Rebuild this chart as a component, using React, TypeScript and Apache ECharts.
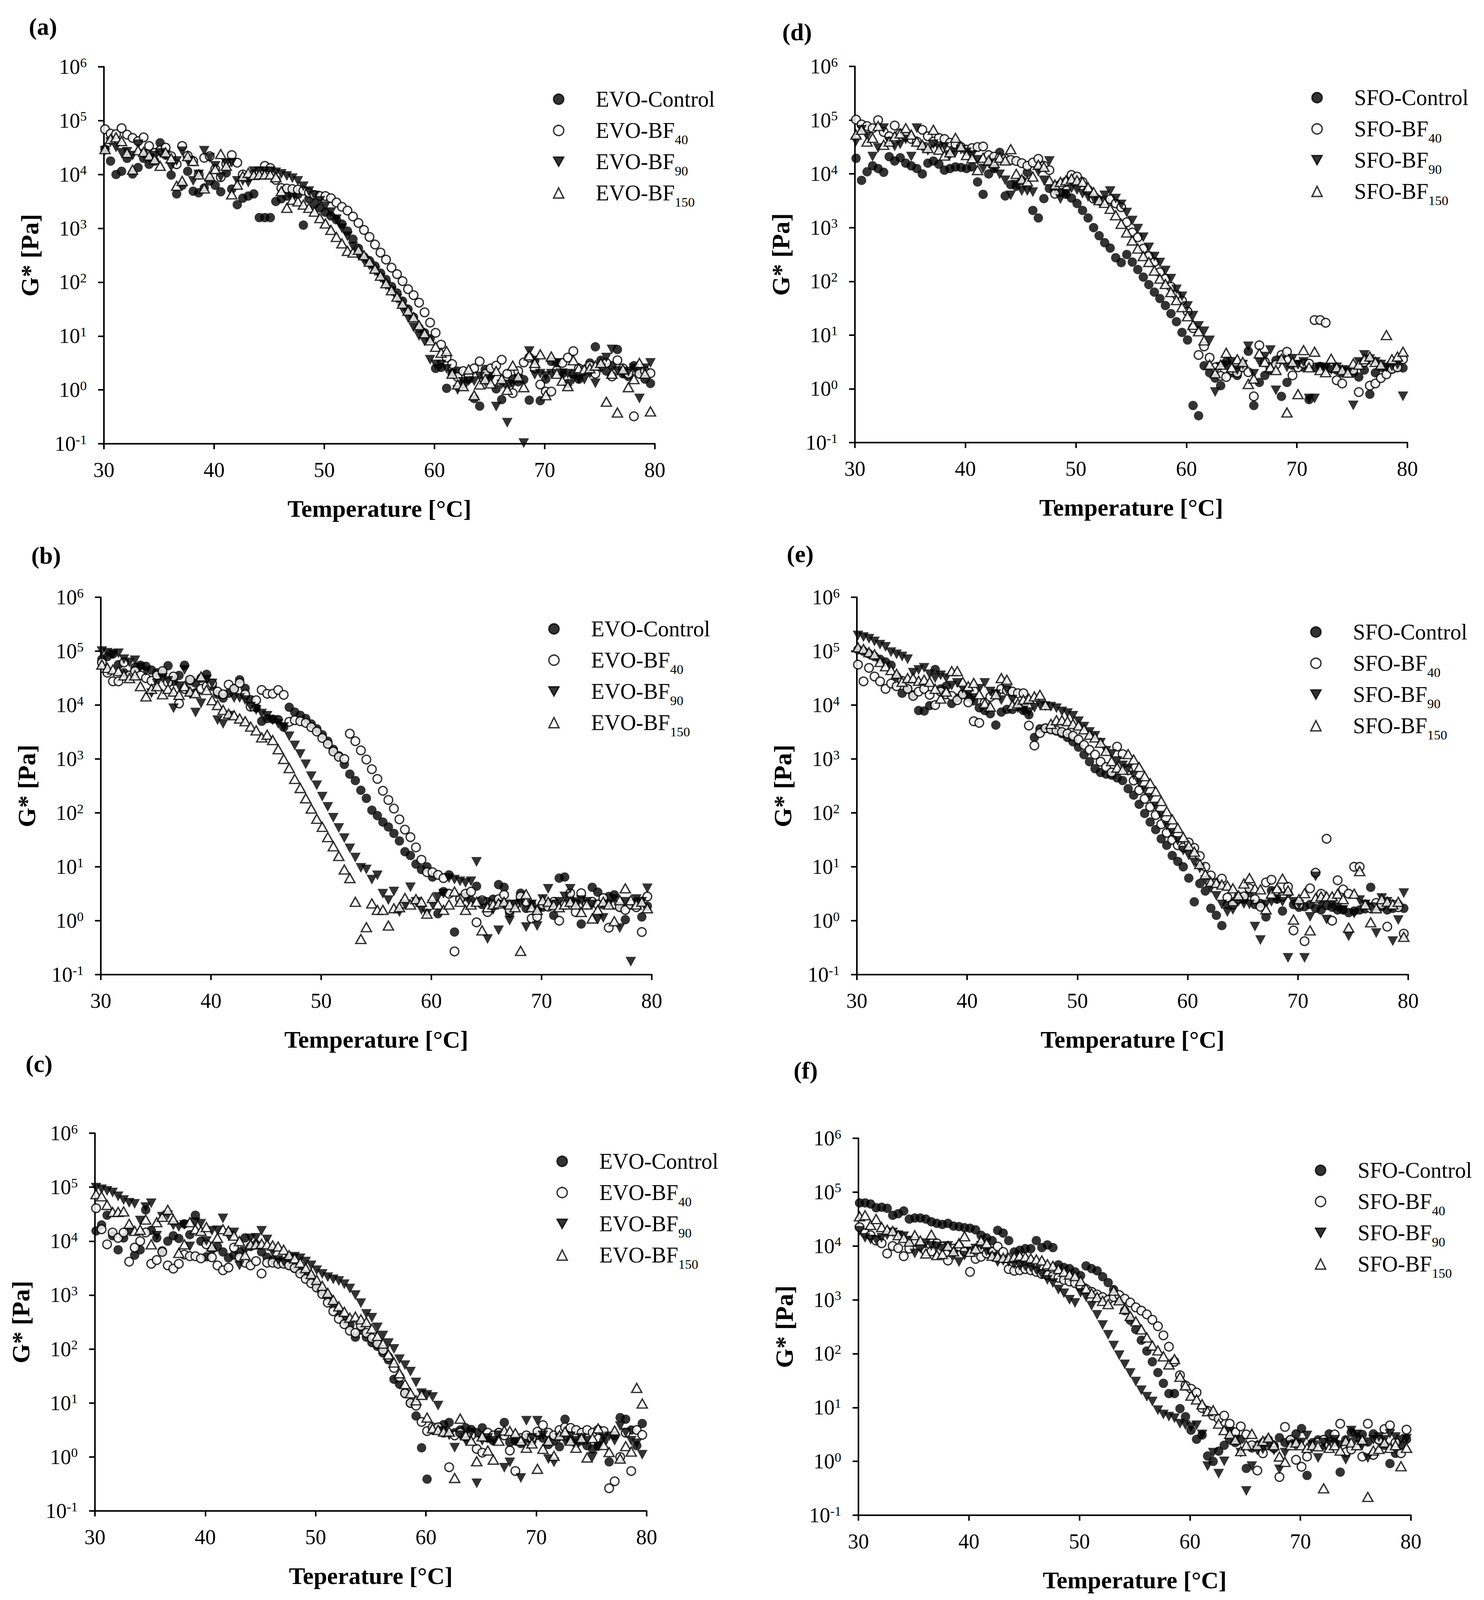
import React, { useEffect, useRef } from "react";
import * as echarts from "echarts";

// Sampling temperatures (°C) shared by every series
const TEMPERATURES = [
  30.1, 30.6, 31.1, 31.6, 32.1, 32.6, 33.1, 33.6, 34.1, 34.6,
  35.1, 35.6, 36.1, 36.6, 37.1, 37.6, 38.1, 38.6, 39.1, 39.6,
  40.1, 40.6, 41.1, 41.6, 42.1, 42.6, 43.1, 43.6, 44.1, 44.6,
  45.1, 45.6, 46.1, 46.6, 47.1, 47.6, 48.1, 48.6, 49.1, 49.6,
  50.1, 50.6, 51.1, 51.6, 52.1, 52.6, 53.1, 53.6, 54.1, 54.6,
  55.1, 55.6, 56.1, 56.6, 57.1, 57.6, 58.1, 58.6, 59.1, 59.6,
  60.1, 60.6, 61.1, 61.6, 62.1, 62.6, 63.1, 63.6, 64.1, 64.6,
  65.1, 65.6, 66.1, 66.6, 67.1, 67.6, 68.1, 68.6, 69.1, 69.6,
  70.1, 70.6, 71.1, 71.6, 72.1, 72.6, 73.1, 73.6, 74.1, 74.6,
  75.1, 75.6, 76.1, 76.6, 77.1, 77.6, 78.1, 78.6, 79.1, 79.6,
];

const X_TICKS = [30, 40, 50, 60, 70, 80];
const Y_DECADES = [-1, 0, 1, 2, 3, 4, 5, 6]; // log10 of tick values

const EVO_NAMES = ["EVO-Control", "EVO-BF40", "EVO-BF90", "EVO-BF150"];
const SFO_NAMES = ["SFO-Control", "SFO-BF40", "SFO-BF90", "SFO-BF150"];

// ---- G* values, stored as log10(G* / Pa) ----
// (a)
const A_CONTROL = [
  4.47, 4.25, 4.0, 4.06, 4.3, 4.01, 4.13, 4.3, 4.19, 4.25,
  4.59, 4.36, 3.99, 3.64, 3.8, 4.06, 3.69, 3.66, 3.75, 3.88,
  3.8, 3.68, 4.03, 3.73, 3.44, 3.56, 3.6, 3.64, 3.2, 3.2,
  3.2, 3.5, 3.55, 3.6, 3.62, 3.63, 3.06, 3.55, 3.45, 3.38,
  3.3, 3.23, 3.16, 3.08, 2.95, 2.8, 2.63, 2.47, 2.4, 2.3,
  2.17, 2.05, 1.92, 1.8, 1.65, 1.5, 1.35, 1.15, 1.06, 0.95,
  0.4, 0.42, 0.03, 0.3, 0.35, 0.1, 0.2, -0.16, -0.3, 0.38,
  0.3, 0.02, -0.18, 0.1, 0.2, 0.15, 0.19, -0.19, 0.55, -0.2,
  0.2, 0.53, 0.5, 0.3, 0.12, 0.3, 0.2, 0.35, 0.5, 0.8,
  0.55, 0.35, 0.45, 0.75, 0.3, 0.25, 0.45, 0.35, 0.2, 0.12,
];
const A_BF40 = [
  4.84, 4.76, 4.75, 4.86, 4.74, 4.68, 4.62, 4.69, 4.53, 4.4,
  4.45, 4.5, 4.34, 4.19, 4.53, 4.35, 4.25, 4.0, 4.31, 4.34,
  4.1, 3.95, 4.2, 4.36, 4.22, 4.0, 3.95, 4.0, 4.05, 4.16,
  4.12, 3.9, 3.75, 3.74, 3.73, 3.72, 3.7, 3.66, 3.62, 3.6,
  3.6, 3.56, 3.48, 3.4, 3.33, 3.22, 3.1, 2.97, 2.84, 2.7,
  2.55, 2.42, 2.27, 2.15, 2.02, 1.87, 1.76, 1.62, 1.44, 1.25,
  1.06, 0.84, 0.6, 0.48, 0.24, 0.35, 0.26, 0.4, 0.53, 0.3,
  0.4, 0.45, 0.56, 0.3, -0.06, 0.35, 0.51, 0.6, 0.4, 0.1,
  -0.03, -0.03, 0.36, 0.5, 0.6, 0.72, 0.4, 0.37, 0.45, 0.3,
  0.44, 0.5, 0.25, 0.55, 0.4, 0.3, -0.49, 0.3, 0.35, 0.31,
];
const A_BF90 = [
  4.44, 4.6, 4.5, 4.4, 4.42, 4.35, 4.56, 4.38, 4.3, 4.35,
  4.4, 4.36, 4.14, 4.25, 4.43, 4.25, 3.88, 4.0, 4.44, 4.31,
  4.16, 3.95, 4.2, 4.22, 3.88, 3.88, 3.85, 4.06, 4.06, 4.06,
  4.06, 4.04, 4.01, 3.97, 3.93, 3.88, 3.78, 3.69, 3.61, 3.51,
  3.41, 3.3, 3.17, 3.0, 2.85, 2.66, 2.5, 2.4, 2.31, 2.2,
  2.08, 1.94, 1.83, 1.69, 1.5, 1.34, 1.16, 1.0, 0.9, 0.56,
  0.47, 0.47, 0.39, 0.3, 0.0, 0.15, 0.16, 0.16, 0.25, 0.15,
  0.2, -0.31, 0.1, -0.61, 0.1, 0.2, -0.99, 0.72, 0.28, 0.3,
  0.26, 0.3, 0.5, 0.31, 0.3, 0.19, 0.2, 0.19, 0.3, 0.12,
  0.4, 0.6, 0.75, 0.35, 0.3, 0.34, 0.4, -0.16, 0.4, 0.5,
];
const A_BF150 = [
  4.47, 4.66, 4.69, 4.62, 4.4, 4.09, 4.45, 4.42, 4.35, 4.28,
  4.16, 4.41, 4.3, 3.79, 3.88, 4.34, 4.25, 4.0, 3.74, 3.97,
  4.1, 4.38, 4.16, 3.63, 3.81, 3.97, 4.03, 3.99, 4.0, 4.0,
  4.0, 3.95, 3.69, 3.38, 3.53, 3.5, 3.44, 3.38, 3.31, 3.19,
  3.09, 2.97, 2.84, 2.72, 2.58, 2.55, 2.6, 2.5, 2.38, 2.25,
  2.12, 1.98, 1.85, 1.73, 1.6, 1.47, 1.35, 1.2, 1.05, 0.92,
  0.8, 0.69, 0.72, 0.3, 0.1, 0.07, 0.38, -0.1, 0.1, 0.2,
  0.12, 0.35, 0.2, 0.0, 0.45, 0.25, 0.05, 0.64, 0.5, 0.66,
  -0.1, 0.62, 0.3, 0.17, 0.07, 0.55, 0.4, 0.38, 0.4, 0.45,
  0.5, -0.22, 0.3, -0.42, 0.38, 0.05, 0.2, 0.5, 0.3, -0.4,
];
// (b)
const B_CONTROL = [
  4.85, 4.9, 4.95, 4.75, 4.6, 4.53, 4.7, 4.74, 4.72, 4.65,
  4.6, 4.6, 4.73, 4.44, 4.55, 4.74, 4.45, 4.41, 4.5, 4.57,
  4.35, 4.2, 4.13, 4.22, 4.31, 4.47, 4.31, 4.1, 3.95, 3.7,
  3.75, 3.74, 3.73, 3.59, 3.96, 3.87, 3.81, 3.75, 3.65, 3.56,
  3.45, 3.33, 3.18, 3.06, 2.9, 2.72, 2.6, 2.42, 2.27, 2.05,
  1.95, 1.83, 1.74, 1.62, 1.48, 1.28, 1.21, 1.05, 0.95, 1.0,
  0.81, 0.13, 0.54, 0.85, -0.21, 0.42, 0.45, 0.38, 0.64, 0.3,
  0.35, 0.4, 0.67, 0.62, 0.14, 0.3, 0.51, 0.23, 0.3, 0.2,
  0.25, 0.3, 0.1, 0.79, 0.81, 0.4, 0.35, -0.06, 0.3, 0.62,
  0.53, 0.3, 0.45, 0.48, 0.26, 0.02, 0.3, 0.35, 0.07, 0.27,
];
const B_BF40 = [
  4.79, 4.6, 4.44, 4.44, 4.79, 4.55, 4.63, 4.55, 4.5, 4.45,
  4.55, 4.63, 4.42, 4.53, 4.03, 4.3, 4.47, 4.22, 4.3, 4.35,
  4.4, 4.25, 4.2, 4.38, 4.3, 4.41, 4.2, 3.97, 4.09, 4.28,
  4.21, 4.21, 4.28, 4.19, 3.69, 3.72, 3.7, 3.67, 3.59, 3.51,
  3.39, 3.28, 3.14, 3.04, 3.0, 3.47, 3.33, 3.16, 2.99, 2.81,
  2.63, 2.41, 2.24, 2.08, 1.88, 1.69, 1.55, 1.36, 1.13, 0.9,
  0.9, 0.85, 0.79, 0.5, -0.57, 0.4, 0.5, 0.54, -0.03, 0.38,
  0.16, 0.3, 0.4, 0.48, 0.2, 0.3, 0.45, 0.35, 0.04, 0.07,
  0.3, 0.26, 0.35, 0.0, 0.3, 0.51, 0.16, 0.51, 0.3, 0.35,
  0.3, 0.42, -0.13, 0.3, 0.25, 0.2, 0.3, 0.25, -0.21, 0.45,
];
const B_BF90 = [
  5.0, 4.97, 4.94, 4.96, 4.85, 4.79, 4.83, 4.7, 4.63, 4.22,
  4.4, 4.5, 4.45, 3.94, 4.35, 4.65, 4.2, 3.86, 4.03, 4.47,
  4.4, 3.72, 3.65, 3.8, 4.13, 4.13, 4.09, 3.97, 3.91, 3.84,
  3.8, 3.72, 3.65, 3.59, 3.42, 3.25, 3.09, 2.9, 2.68, 2.51,
  2.3, 2.11, 1.91, 1.72, 1.53, 1.34, 1.17, 0.98, 0.95, 0.76,
  0.84, 0.5, 0.38, 0.54, 0.16, 0.3, 0.62, 0.35, 0.2, 0.13,
  0.3, 0.44, 0.5, 0.79, 0.76, 0.73, 0.7, 0.73, 1.09, 0.35,
  -0.34, 0.2, -0.18, 0.3, 0.0, 0.3, 0.32, -0.12, 0.3, -0.1,
  0.4, 0.59, 0.3, 0.35, 0.45, 0.59, 0.3, 0.38, 0.35, 0.3,
  0.02, 0.05, 0.3, 0.4, -0.14, 0.35, -0.76, 0.4, 0.35, 0.6,
];
const B_BF150 = [
  4.75, 4.69, 4.66, 4.63, 4.55, 4.5, 4.55, 4.35, 4.16, 4.3,
  4.35, 4.2, 4.3, 4.25, 4.19, 4.35, 4.25, 4.22, 4.53, 4.28,
  4.09, 4.0, 3.91, 3.84, 3.81, 3.75, 3.7, 3.6, 3.53, 3.4,
  3.45, 3.35, 3.18, 3.0, 2.83, 2.63, 2.46, 2.27, 2.08, 1.89,
  1.74, 1.55, 1.38, 1.2, 0.95, 0.79, 0.35, -0.34, -0.12, 0.32,
  0.2, 0.2, -0.09, 0.23, 0.25, 0.42, 0.3, 0.4, 0.35, 0.13,
  0.42, 0.3, 0.2, 0.3, 0.54, 0.35, 0.2, 0.3, 0.35, -0.18,
  0.25, 0.3, 0.32, 0.35, 0.3, 0.25, -0.56, 0.49, 0.25, 0.2,
  0.38, 0.35, 0.29, 0.25, 0.3, 0.35, 0.3, 0.16, 0.3, 0.04,
  0.2, 0.35, 0.3, -0.01, 0.38, 0.6, 0.38, 0.3, 0.35, 0.23,
];
// (c)
const C_CONTROL = [
  4.19, 4.3, 4.48, 4.1, 3.84, 4.06, 4.2, 3.74, 3.84, 4.58,
  4.2, 4.06, 3.82, 4.0, 4.1, 4.05, 4.32, 4.12, 4.48, 4.0,
  3.71, 3.85, 3.9, 3.8, 3.69, 3.74, 3.8, 4.06, 3.9, 3.94,
  3.8, 3.7, 3.65, 3.6, 3.6, 3.55, 3.5, 3.45, 3.39, 3.3,
  3.18, 3.06, 2.97, 2.82, 2.67, 2.53, 2.44, 2.22, 2.35, 2.22,
  2.12, 2.05, 1.93, 1.8, 1.44, 1.35, 1.19, 1.0, 0.76, 0.17,
  -0.41, 0.5, 0.55, 0.6, 0.64, 0.45, 0.5, 0.54, 0.51, 0.45,
  0.54, 0.35, 0.3, 0.45, 0.64, 0.27, 0.3, 0.25, 0.35, 0.3,
  0.4, 0.35, 0.23, 0.3, 0.19, 0.7, 0.3, 0.25, 0.3, 0.21,
  0.15, 0.2, 0.3, -0.09, 0.4, 0.73, 0.7, 0.5, 0.21, 0.62,
];
const C_BF40 = [
  4.61, 4.22, 3.94, 4.16, 4.06, 4.16, 3.62, 3.88, 4.0, 4.16,
  3.58, 3.65, 3.8, 3.55, 3.49, 3.58, 3.75, 3.72, 3.72, 3.68,
  3.94, 3.7, 3.55, 3.46, 3.51, 3.88, 3.7, 3.6, 3.55, 3.63,
  3.4, 3.6, 3.6, 3.58, 3.58, 3.55, 3.5, 3.4, 3.3, 3.22,
  3.14, 3.02, 2.86, 2.7, 2.56, 2.46, 2.34, 2.3, 2.43, 2.3,
  2.2, 2.1, 1.98, 1.85, 1.65, 1.48, 1.18, 1.0, 0.95, 0.65,
  0.48, 0.55, 0.55, 0.45, -0.19, 0.4, 0.45, 0.38, 0.4, 0.15,
  0.08, 0.45, 0.4, 0.45, 0.4, 0.12, -0.26, 0.35, 0.4, 0.35,
  0.47, 0.59, 0.45, 0.4, 0.5, 0.55, 0.54, 0.5, 0.45, 0.5,
  0.45, 0.5, 0.48, -0.58, -0.45, 0.0, 0.45, -0.26, 0.5, 0.41,
];
const C_BF90 = [
  4.99, 4.96, 4.93, 4.9, 4.83, 4.76, 4.71, 4.69, 4.38, 4.63,
  4.7, 4.1, 4.45, 4.48, 4.29, 4.26, 4.3, 3.9, 4.35, 4.32,
  4.0, 4.19, 4.2, 4.42, 4.1, 4.16, 3.55, 3.81, 4.05, 4.06,
  4.19, 4.03, 3.8, 3.65, 3.62, 3.68, 3.71, 3.68, 3.62, 3.55,
  3.46, 3.39, 3.33, 3.29, 3.26, 3.2, 3.12, 3.0, 2.85, 2.65,
  2.58, 2.4, 2.25, 2.11, 2.0, 1.81, 1.7, 1.58, 1.38, 1.18,
  1.15, 1.11, 0.95, 0.48, 0.4, 0.17, 0.4, 0.3, 0.45, -0.49,
  0.3, 0.35, 0.3, 0.4, -0.2, -0.1, 0.3, -0.39, 0.67, 0.35,
  0.67, 0.4, -0.04, -0.1, 0.35, 0.3, 0.38, 0.3, 0.35, 0.3,
  0.0, 0.2, 0.35, 0.38, 0.3, 0.57, 0.45, 0.3, 0.25, 0.04,
];
const C_BF150 = [
  4.87, 4.83, 4.67, 4.54, 4.54, 4.55, 4.32, 4.19, 4.21, 4.4,
  3.94, 4.35, 4.45, 4.58, 4.4, 3.78, 3.94, 4.35, 4.22, 4.19,
  4.26, 3.9, 4.06, 4.22, 4.19, 4.1, 4.0, 3.74, 3.94, 3.94,
  3.95, 3.94, 3.92, 3.9, 3.84, 3.74, 3.68, 3.6, 3.5, 3.39,
  3.28, 3.17, 3.04, 2.91, 2.79, 2.69, 2.58, 2.6, 2.55, 2.5,
  2.38, 2.24, 2.1, 1.9, 1.75, 1.55, 1.35, 1.18, 1.05, 1.15,
  0.73, 0.53, 0.5, 0.47, 0.47, -0.39, 0.71, 0.4, 0.3, -0.08,
  0.38, 0.12, -0.05, 0.3, 0.49, 0.48, 0.44, 0.3, 0.17, 0.25,
  -0.22, 0.15, 0.3, 0.02, 0.4, 0.47, 0.3, 0.17, 0.35, -0.01,
  0.35, 0.53, 0.22, 0.09, 0.49, -0.03, 0.2, 0.1, 1.28, 0.99,
];
// (d)
const D_CONTROL = [
  4.29, 3.88, 4.04, 4.15, 4.1, 4.03, 4.32, 4.24, 4.3, 4.2,
  4.15, 4.1, 4.0, 4.2, 4.24, 4.18, 4.07, 4.1, 4.13, 4.12,
  4.1, 4.13, 3.85, 3.62, 4.0, 4.1, 4.4, 3.59, 3.8, 3.77,
  3.88, 4.03, 3.32, 3.18, 3.54, 3.73, 3.7, 3.66, 3.62, 3.55,
  3.45, 3.32, 3.18, 3.0, 2.85, 2.72, 2.62, 2.44, 2.35, 2.5,
  2.36, 2.22, 2.08, 1.94, 1.8, 1.68, 1.55, 1.4, 1.25, 1.05,
  0.91, -0.31, -0.5, 0.43, 0.3, 0.2, 0.06, 0.5, 0.3, 0.25,
  0.4, 0.7, -0.31, 0.12, 0.25, 0.35, 0.53, -0.14, 0.12, 0.44,
  0.45, 0.4, -0.2, 0.4, 0.42, 0.4, 0.38, 0.35, 0.3, 0.35,
  0.3, 0.22, 0.35, -0.1, 0.3, 0.4, 0.39, 0.37, 0.4, 0.39,
];
const D_BF40 = [
  5.01, 4.92, 4.89, 4.85, 5.0, 4.78, 4.7, 4.9, 4.75, 4.7,
  4.65, 4.6, 4.82, 4.7, 4.6, 4.67, 4.65, 4.58, 4.55, 4.5,
  4.45, 4.48, 4.5, 4.51, 4.35, 4.32, 4.3, 4.28, 4.26, 4.24,
  4.2, 4.15, 4.21, 4.28, 4.15, 4.07, 3.63, 3.8, 3.85, 3.98,
  3.95, 3.85, 3.7, 3.54, 3.51, 3.5, 3.53, 3.45, 3.38, 3.1,
  2.91, 2.82, 2.61, 2.47, 2.36, 2.17, 2.05, 1.9, 1.75, 1.64,
  1.44, 1.13, 0.63, 0.79, 0.58, 0.4, 0.24, 0.22, 0.35, 0.3,
  0.4, 0.31, -0.14, 0.81, 0.5, 0.4, 0.45, 0.63, 0.69, 0.25,
  0.4, 0.47, 0.47, 1.28, 1.28, 1.23, 0.4, 0.16, 0.1, 0.3,
  0.35, -0.06, 0.5, 0.06, 0.1, 0.2, 0.27, 0.37, 0.4, 0.55,
];
const D_BF90 = [
  4.6, 4.82, 4.7, 4.32, 4.48, 4.85, 4.6, 4.51, 4.55, 4.64,
  4.32, 4.85, 4.5, 4.43, 4.55, 4.48, 4.5, 4.35, 4.4, 4.45,
  4.4, 4.35, 4.26, 4.1, 4.2, 4.1, 3.99, 3.88, 3.6, 3.8,
  3.68, 3.68, 3.66, 4.04, 3.88, 4.24, 3.76, 3.53, 3.63, 3.73,
  3.7, 3.63, 3.57, 3.54, 3.48, 3.6, 3.68, 3.54, 3.43, 3.28,
  3.13, 2.98, 2.82, 2.63, 2.46, 2.35, 2.2, 2.05, 1.85, 1.72,
  1.54, 1.36, 1.17, 1.07, 0.9, -0.06, 0.41, 0.44, 0.5, 0.35,
  0.45, 0.79, 0.28, 0.5, 0.6, 0.72, -0.03, 0.53, 0.4, 0.56,
  0.45, 0.5, -0.18, -0.18, 0.4, 0.38, 0.35, 0.4, 0.35, 0.3,
  -0.31, 0.5, 0.63, 0.55, 0.5, 0.45, 0.4, 0.42, 0.45, -0.14,
];
const D_BF150 = [
  4.73, 4.82, 4.6, 4.67, 4.89, 4.54, 4.6, 4.7, 4.75, 4.85,
  4.73, 4.6, 4.54, 4.48, 4.82, 4.45, 4.34, 4.4, 4.67, 4.51,
  4.35, 4.29, 4.07, 4.3, 4.25, 4.2, 4.3, 4.25, 4.46, 4.0,
  3.9, 3.86, 3.95, 4.17, 4.13, 3.88, 3.8, 3.85, 3.88, 3.91,
  3.88, 3.85, 3.75, 3.66, 3.51, 3.46, 3.35, 3.23, 3.07, 2.91,
  2.76, 2.61, 2.47, 2.36, 2.2, 2.05, 1.95, 1.8, 1.65, 1.52,
  1.35, 1.19, 1.07, 0.9, 0.45, 0.29, 0.45, 0.67, 0.4, 0.55,
  0.5, 0.09, 0.19, 0.66, 0.5, 0.4, 0.35, 0.56, -0.44, 0.5,
  -0.1, 0.72, 0.4, 0.69, 0.35, 0.31, 0.56, 0.4, 0.35, 0.3,
  0.47, 0.45, 0.55, 0.6, 0.5, 0.45, 1.0, 0.55, 0.6, 0.69,
];
// (e)
const E_CONTROL = [
  5.03, 5.0, 4.95, 4.9, 4.85, 4.8, 4.74, 4.53, 4.22, 4.3,
  4.19, 3.9, 3.89, 3.99, 4.66, 4.3, 4.35, 4.03, 4.13, 4.2,
  4.15, 4.08, 3.95, 3.9, 3.84, 3.63, 3.87, 3.92, 3.92, 3.98,
  3.9, 3.82, 3.4, 3.56, 3.57, 3.55, 3.52, 3.47, 3.4, 3.32,
  3.22, 3.08, 2.95, 2.82, 2.75, 2.72, 2.7, 2.65, 2.6, 2.45,
  2.33, 2.16, 1.99, 1.83, 1.69, 1.52, 1.4, 1.21, 1.1, 1.0,
  0.79, 0.35, 0.69, 0.55, 0.23, 0.1, -0.09, 0.3, 0.35, 0.45,
  0.4, 0.52, 0.3, 0.32, 0.07, 0.56, 0.4, 0.18, 0.51, 0.3,
  0.25, 0.26, 0.3, 0.23, 0.2, 0.28, 0.25, 0.2, 0.2, 0.15,
  0.18, 0.2, 0.22, 0.62, 0.25, 0.26, 0.2, 0.23, 0.3, 0.23,
];
const E_BF40 = [
  4.75, 4.44, 4.69, 4.53, 4.44, 4.3, 4.4, 4.35, 4.45, 4.3,
  4.17, 4.25, 4.3, 4.19, 4.0, 4.25, 4.2, 4.17, 4.09, 4.2,
  4.05, 3.7, 3.67, 4.05, 4.15, 4.2, 4.3, 4.27, 4.25, 4.22,
  4.22, 3.62, 3.25, 3.48, 3.57, 3.55, 3.53, 3.5, 3.47, 3.43,
  3.36, 3.26, 3.17, 3.08, 2.95, 2.85, 2.75, 3.23, 3.09, 2.79,
  2.6, 2.42, 2.26, 2.11, 1.96, 1.79, 1.63, 1.5, 1.4, 1.36,
  1.45, 1.35, 1.2, 1.0, 0.84, 0.7, 0.78, 0.43, 0.3, 0.4,
  0.45, 0.6, 0.4, 0.26, 0.71, 0.76, 0.55, 0.45, 0.63, -0.18,
  0.3, -0.38, 0.6, 0.89, 0.5, 1.52, 0.0, 0.75, 0.58, 0.5,
  1.0, 1.0, 0.3, 0.23, 0.33, 0.3, -0.11, 0.3, 0.25, -0.24,
];
const E_BF90 = [
  5.29, 5.26, 5.23, 5.18, 5.12, 5.08, 4.98, 4.94, 4.9, 4.85,
  4.6, 4.65, 4.69, 4.57, 4.5, 4.55, 4.5, 4.36, 4.41, 4.3,
  4.2, 4.13, 4.3, 4.41, 4.25, 4.2, 4.09, 4.28, 4.1, 3.94,
  3.9, 3.87, 3.95, 4.0, 3.98, 3.97, 3.94, 3.88, 3.85, 3.8,
  3.7, 3.6, 3.5, 3.43, 3.3, 3.15, 3.09, 2.96, 2.88, 2.82,
  2.7, 2.56, 2.42, 2.28, 2.12, 1.95, 1.76, 1.63, 1.48, 1.3,
  1.21, 1.08, 0.97, 0.75, 0.6, 0.46, 0.3, 0.16, 0.2, 0.35,
  0.31, 0.3, -0.11, -0.36, 0.3, 0.35, 0.4, 0.35, -0.69, 0.35,
  0.3, -0.69, 0.07, 0.82, 0.3, 0.02, 0.3, 0.25, 0.2, -0.29,
  0.13, 0.38, 0.3, 0.25, -0.23, 0.42, 0.35, -0.38, 0.01, 0.51,
];
const E_BF150 = [
  5.07, 5.04, 4.98, 4.94, 4.8, 4.72, 4.65, 4.58, 4.43, 4.5,
  4.5, 4.45, 4.47, 4.43, 4.3, 4.12, 4.25, 4.63, 4.63, 4.43,
  4.35, 4.41, 4.2, 4.03, 3.97, 4.2, 4.5, 4.47, 4.0, 4.03,
  4.1, 4.12, 4.16, 4.19, 4.0, 3.65, 3.72, 3.72, 3.7, 3.65,
  3.62, 3.55, 3.45, 3.4, 3.3, 3.15, 2.96, 2.84, 2.8, 3.09,
  2.99, 2.85, 2.68, 2.55, 2.4, 2.22, 2.03, 1.88, 1.72, 1.55,
  1.39, 1.28, 1.05, 0.86, 0.72, 0.7, 0.67, 0.65, 0.6, 0.47,
  0.69, 0.79, 0.6, 0.58, 0.21, 0.5, 0.6, 0.78, 0.56, 0.02,
  0.4, 0.51, -0.18, 0.42, 0.45, 0.45, 0.45, 0.5, 0.4, -0.13,
  0.5, 0.92, 0.3, -0.03, 0.23, 0.4, 0.35, 0.3, 0.35, -0.3,
];
// (f)
const F_CONTROL = [
  4.8, 4.8, 4.78, 4.71, 4.72, 4.7, 4.57, 4.6, 4.65, 4.5,
  4.52, 4.52, 4.5, 4.45, 4.42, 4.4, 4.42, 4.37, 4.36, 4.34,
  4.33, 4.3, 4.2, 4.15, 4.1, 4.29, 4.24, 4.1, 3.89, 3.92,
  3.95, 3.95, 4.1, 3.97, 4.02, 3.97, 3.65, 3.6, 3.58, 3.52,
  3.45, 3.63, 3.58, 3.54, 3.43, 3.32, 3.19, 3.0, 2.8, 2.62,
  2.45, 2.25, 2.05, 1.85, 1.65, 1.45, 1.26, 1.26, 0.98, 0.83,
  0.58, 0.41, 0.49, 0.1, 0.0, 0.19, 0.3, 0.41, 0.35, 0.41,
  -0.13, 0.25, 0.3, 0.35, 0.4, 0.3, 0.44, 0.35, 0.4, 0.51,
  0.61, -0.26, 0.35, 0.4, 0.3, 0.51, 0.35, -0.2, 0.4, 0.54,
  0.45, 0.5, 0.36, 0.51, 0.4, 0.3, -0.04, 0.15, 0.3, 0.41,
];
const F_BF40 = [
  4.35, 4.24, 4.2, 4.1, 4.05, 3.86, 4.0, 3.96, 3.81, 3.95,
  4.08, 4.0, 3.9, 3.9, 4.05, 3.99, 3.73, 3.95, 3.99, 3.9,
  3.52, 3.76, 3.8, 3.86, 3.9, 3.99, 3.89, 3.57, 3.54, 3.55,
  3.57, 3.55, 3.52, 3.48, 3.46, 3.44, 3.41, 3.37, 3.34, 3.31,
  3.25, 3.2, 3.15, 3.1, 3.05, 3.0, 3.05, 3.09, 3.02, 2.95,
  2.86, 2.8, 2.73, 2.63, 2.51, 2.34, 2.13, 1.85, 1.6, 1.41,
  1.35, 1.28, 0.99, 0.94, 0.85, 0.79, 0.85, 0.7, 0.54, 0.65,
  0.5, 0.3, -0.17, 0.15, 0.3, 0.25, -0.29, 0.64, 0.4, 0.03,
  -0.1, 0.09, 0.3, 0.35, 0.4, 0.3, 0.5, 0.7, 0.17, 0.22,
  0.3, 0.09, 0.7, 0.12, 0.4, 0.6, 0.67, 0.35, 0.15, 0.59,
];
const F_BF90 = [
  4.28, 4.15, 4.12, 4.11, 4.15, 4.2, 4.25, 4.2, 4.18, 4.1,
  3.86, 3.95, 4.05, 4.0, 3.99, 3.95, 4.0, 3.82, 3.7, 3.82,
  3.9, 3.95, 4.0, 3.9, 3.8, 3.7, 3.72, 3.7, 3.66, 3.63,
  3.62, 3.6, 3.55, 3.47, 3.37, 3.31, 3.19, 3.12, 3.0, 2.94,
  3.13, 3.05, 2.89, 2.72, 2.53, 2.35, 2.15, 1.97, 1.8, 1.64,
  1.48, 1.32, 1.2, 1.11, 0.95, 0.87, 0.83, 0.8, 0.7, 0.67,
  0.64, 0.67, 0.5, -0.09, 0.16, -0.23, 0.0, 0.55, 0.4, 0.16,
  -0.55, -0.09, 0.2, 0.22, 0.3, 0.2, -0.15, 0.16, 0.3, 0.32,
  0.35, 0.48, 0.3, 0.06, 0.35, 0.35, 0.4, 0.3, 0.03, 0.57,
  0.5, 0.3, 0.06, 0.4, 0.45, 0.4, 0.51, 0.45, 0.4, 0.42,
];
const F_BF150 = [
  4.55, 4.57, 4.39, 4.5, 4.35, 4.3, 4.28, 4.2, 4.15, 4.08,
  4.2, 4.1, 3.86, 4.21, 3.83, 3.85, 4.0, 3.9, 4.05, 4.18,
  3.89, 3.95, 4.1, 4.05, 3.82, 3.8, 3.78, 3.78, 3.8, 3.82,
  3.8, 3.77, 3.75, 3.73, 3.66, 3.63, 3.57, 3.52, 3.47, 3.44,
  3.35, 3.21, 3.12, 3.05, 2.98, 2.92, 3.17, 2.99, 2.83, 2.7,
  2.6, 2.45, 2.3, 2.15, 2.06, 1.95, 1.8, 1.9, 1.57, 1.41,
  1.22, 1.15, 1.06, 0.93, 0.95, 0.7, 0.58, 0.51, 0.4, 0.19,
  0.3, 0.51, 0.3, 0.38, 0.44, 0.3, 0.09, -0.01, 0.3, 0.35,
  0.3, 0.25, 0.3, 0.28, -0.5, 0.25, 0.3, 0.2, 0.38, 0.35,
  0.3, 0.4, -0.66, 0.2, 0.23, 0.35, 0.25, 0.3, -0.09, 0.25,
];

// ---- layout & styles (designed on a 3798 x 4310 page) ----
const FONT = "'Liberation Serif', 'Times New Roman', Times, serif";
const DESIGN_W = 3798;
const DESIGN_H = 4310;

const PANELS = [
  { label: "(a)", labelPos: [110, 72], grid: [266, 180, 1410, 1015], legendPos: [1428, 267], names: EVO_NAMES, xName: "Temperature [°C]", data: [A_CONTROL, A_BF40, A_BF90, A_BF150] },
  { label: "(b)", labelPos: [118, 1496], grid: [258, 1609, 1410, 1016], legendPos: [1416, 1694], names: EVO_NAMES, xName: "Temperature [°C]", data: [B_CONTROL, B_BF40, B_BF90, B_BF150] },
  { label: "(c)", labelPos: [100, 2865], grid: [243, 3053, 1412, 1017], legendPos: [1437, 3128], names: EVO_NAMES, xName: "Teperature [°C]", data: [C_CONTROL, C_BF40, C_BF90, C_BF150] },
  { label: "(d)", labelPos: [2040, 86], grid: [2188, 179, 1414, 1013], legendPos: [3369, 263], names: SFO_NAMES, xName: "Temperature [°C]", data: [D_CONTROL, D_BF40, D_BF90, D_BF150] },
  { label: "(e)", labelPos: [2048, 1492], grid: [2193, 1609, 1411, 1016], legendPos: [3366, 1703], names: SFO_NAMES, xName: "Temperature [°C]", data: [E_CONTROL, E_BF40, E_BF90, E_BF150] },
  { label: "(f)", labelPos: [2062, 2883], grid: [2197, 3066, 1414, 1015], legendPos: [3378, 3153], names: SFO_NAMES, xName: "Temperature [°C]", data: [F_CONTROL, F_BF40, F_BF90, F_BF150] },
];

const DOWN_TRIANGLE = "path://M0,0L20,0L10,18Z";

const MARKERS = [
  { symbol: "circle", symbolSize: 24, itemStyle: { color: "#000", borderColor: "#000", borderWidth: 0 } },
  { symbol: "circle", symbolSize: 22, itemStyle: { color: "#fff", borderColor: "#000", borderWidth: 3.5 } },
  { symbol: DOWN_TRIANGLE, symbolSize: [27, 25], itemStyle: { color: "#000", borderColor: "#000", borderWidth: 0 } },
  { symbol: "triangle", symbolSize: [26, 23], itemStyle: { color: "#fff", borderColor: "#000", borderWidth: 3.5 } },
];

function buildOption(W: number, H: number) {
  const sx = W / DESIGN_W;
  const sy = H / DESIGN_H;
  const X = (v: number) => Math.round(v * sx);
  const Y = (v: number) => Math.round(v * sy);

  const grid: any[] = [];
  const xAxis: any[] = [];
  const yAxis: any[] = [];
  const series: any[] = [];
  const legend: any[] = [];
  const graphic: any[] = [];

  PANELS.forEach((p, i) => {
    grid.push({ left: X(p.grid[0]), top: Y(p.grid[1]), width: X(p.grid[2]), height: Y(p.grid[3]), containLabel: false, outerBoundsMode: "none" });
    xAxis.push({
      gridIndex: i,
      type: "value",
      min: X_TICKS[0],
      max: X_TICKS[X_TICKS.length - 1],
      interval: X_TICKS[1] - X_TICKS[0],
      name: p.xName,
      nameLocation: "middle",
      nameGap: Y(142),
      nameTextStyle: { fontFamily: FONT, fontSize: 62, fontWeight: "bold", color: "#000" },
      axisLine: { show: true, onZero: false, lineStyle: { color: "#000", width: 4 } },
      axisTick: { show: true, inside: false, length: 14, lineStyle: { color: "#000", width: 4 } },
      axisLabel: { fontFamily: FONT, fontSize: 54, color: "#000", margin: Y(42) },
      splitLine: { show: false },
    });
    yAxis.push({
      gridIndex: i,
      type: "log",
      logBase: 10,
      min: Math.pow(10, Y_DECADES[0]),
      max: Math.pow(10, Y_DECADES[Y_DECADES.length - 1]),
      splitNumber: Y_DECADES.length - 1,
      name: "G* [Pa]",
      nameLocation: "middle",
      nameRotate: 90,
      nameGap: X(158),
      nameTextStyle: { fontFamily: FONT, fontSize: 64, fontWeight: "bold", color: "#000" },
      axisLine: { show: true, onZero: false, lineStyle: { color: "#000", width: 4 } },
      axisTick: { show: true, inside: false, length: 15, lineStyle: { color: "#000", width: 4 } },
      minorTick: { show: false },
      splitLine: { show: false },
      axisLabel: {
        margin: X(44),
        formatter: (v: number) => `{b|10}{e|${Math.round(Math.log10(v))}}`,
        rich: {
          b: { fontFamily: FONT, fontSize: 54, lineHeight: 56, color: "#000" },
          e: { fontFamily: FONT, fontSize: 34, lineHeight: 34, color: "#000", verticalAlign: "top" },
        },
      },
    });
    p.names.forEach((name, k) => {
      const logs = p.data[k];
      series.push({
        type: "scatter",
        name,
        xAxisIndex: i,
        yAxisIndex: i,
        symbol: MARKERS[k].symbol,
        symbolSize: MARKERS[k].symbolSize,
        itemStyle: MARKERS[k].itemStyle,
        emphasis: { disabled: true },
        data: TEMPERATURES.map((t, j) => [t, Math.pow(10, logs[j])]),
      });
    });
    legend.push({
      orient: "vertical",
      left: X(p.legendPos[0]) - 13,
      top: Y(p.legendPos[1]) - 40,
      padding: 0,
      itemGap: Math.max(0, Y(82) - 80),
      itemWidth: 26,
      itemHeight: 26,
      selectedMode: false,
      data: p.names,
      itemStyle: { borderWidth: 3.5 },
      formatter: (name: string) => name.replace(/BF(\d+)$/, "BF{s|$1}"),
      textStyle: {
        fontFamily: FONT,
        fontSize: 56,
        lineHeight: 80,
        color: "#000",
        padding: [0, 0, 0, 77],
        rich: {
          s: { fontFamily: FONT, fontSize: 34, lineHeight: 30, color: "#000", verticalAlign: "bottom" },
        },
      },
    });
    graphic.push({
      type: "text",
      x: X(p.labelPos[0]),
      y: Y(p.labelPos[1]),
      style: {
        text: p.label,
        font: `bold 62px ${FONT}`,
        fill: "#000",
        align: "center",
        verticalAlign: "middle",
      },
    });
  });

  return {
    animation: false,
    backgroundColor: "#fff",
    grid,
    xAxis,
    yAxis,
    series,
    legend,
    graphic,
  };
}

function viewportSize() {
  const w = Math.min(DESIGN_W, window.innerWidth || DESIGN_W);
  const h = Math.min(DESIGN_H, window.innerHeight || DESIGN_H);
  return { w, h };
}

export default function App() {
  const ref = useRef<HTMLDivElement>(null);
  const size = viewportSize();
  useEffect(() => {
    if (!ref.current) return;
    const chart = echarts.init(ref.current, undefined, { renderer: "svg" });
    chart.setOption(buildOption(size.w, size.h) as any);
    return () => chart.dispose();
  }, []);
  return (
    <div
      ref={ref}
      style={{ position: "absolute", left: 0, top: 0, width: size.w, height: size.h, background: "#fff" }}
    />
  );
}
